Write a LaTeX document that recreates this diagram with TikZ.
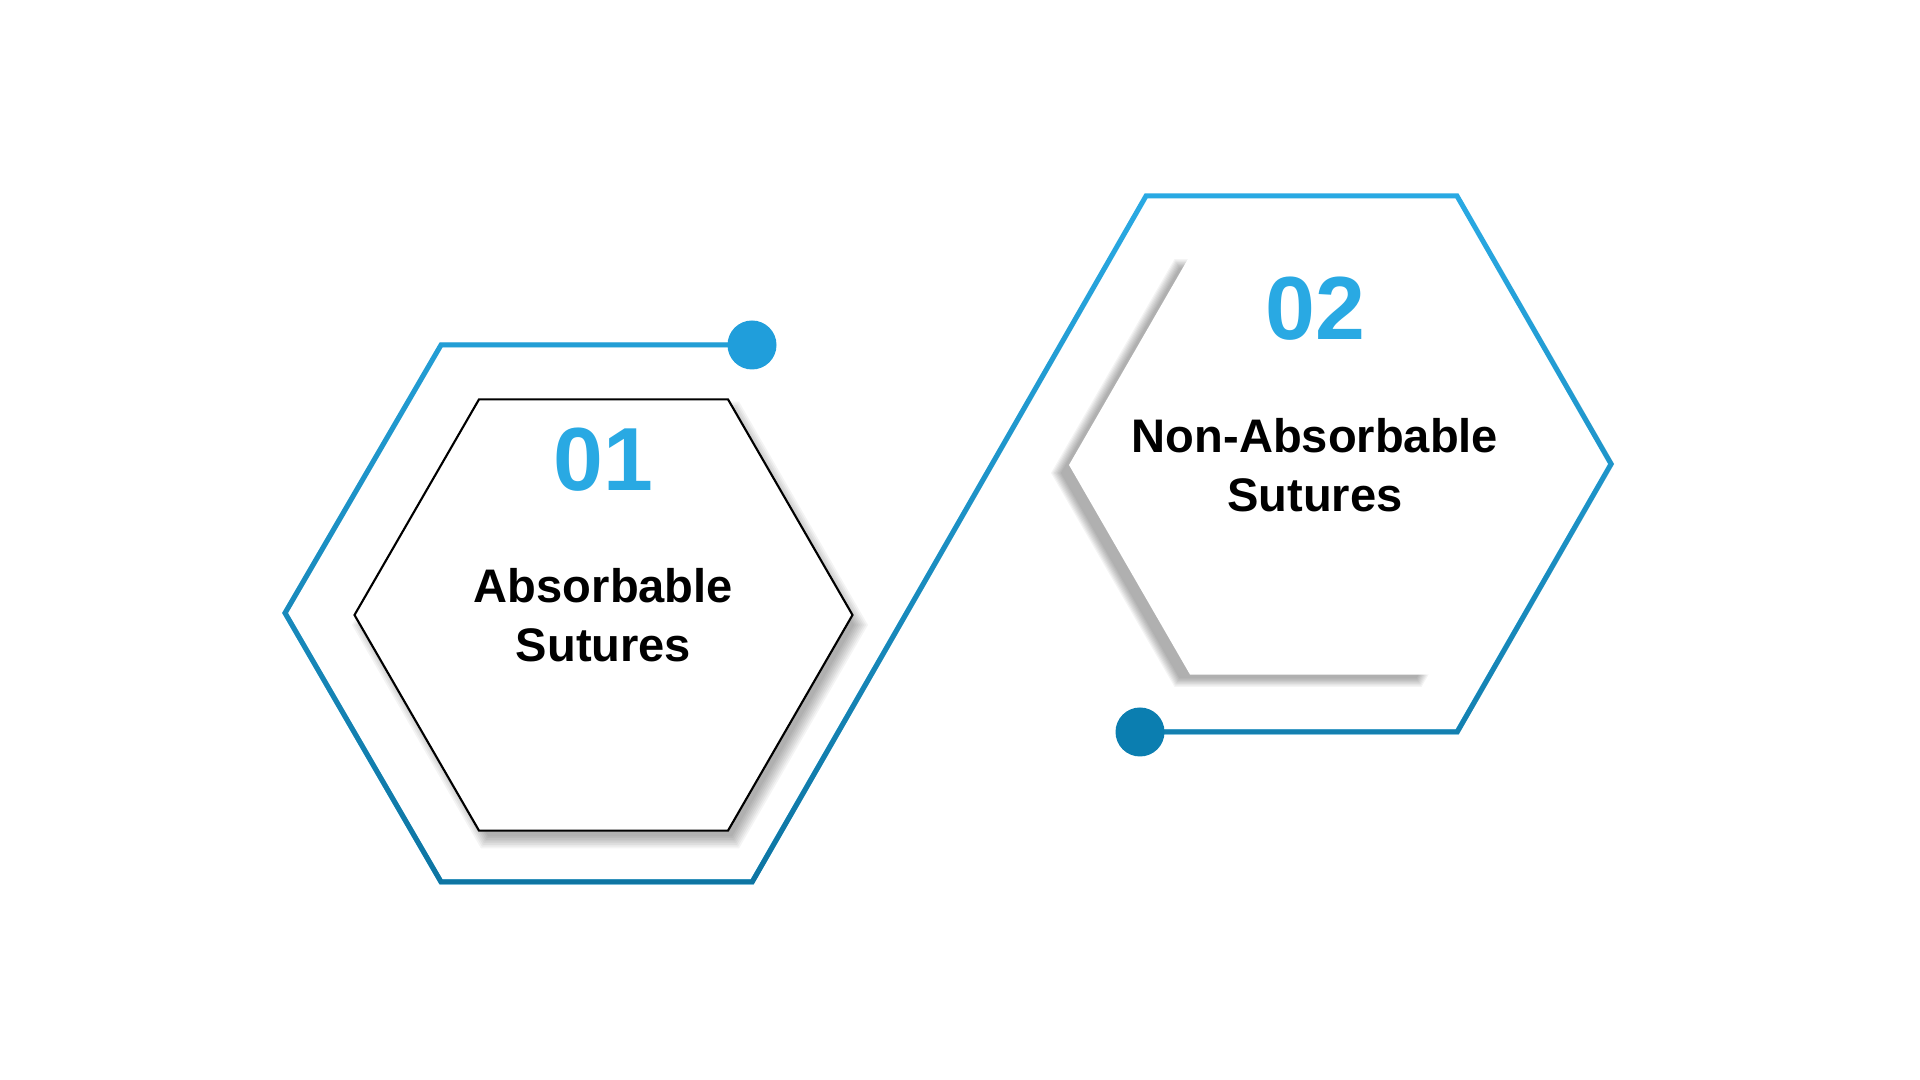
\documentclass[tikz,border=0pt]{standalone}
\usepackage{fontspec}
\setmainfont{Liberation Sans}
\usepackage{tikz}
\usetikzlibrary{positioning,shapes.geometric}
\usetikzlibrary{fadings}

\definecolor{ringlight}{HTML}{2AAAE4}
\definecolor{ringdark}{HTML}{0E75A2}
\definecolor{dotlight}{HTML}{209EDB}
\definecolor{dotdark}{HTML}{0B7EB0}
\definecolor{numblue}{HTML}{29A9E3}

\tikzfading[name=fadeup, top color=transparent!100, bottom color=transparent!0]

\newcommand{\ringpath}{(endA) -- (4.41, 7.35) -- (2.85, 4.67) -- (4.41, 1.98) -- (7.52, 1.98) -- (11.46, 8.84) -- (14.57, 8.84) -- (16.11, 6.16) -- (14.57, 3.48) -- (endB)}

\tikzset{
    hexcell/.style={regular polygon, regular polygon sides=6, inner sep=0pt, fill=white},
    hexshade/.style={black, opacity=0.045},
    numlabel/.style={inner sep=0pt, text=numblue, font=\fontsize{25.5}{28}\selectfont\bfseries},
    titlelabel/.style={inner sep=0pt, align=center, font=\fontsize{13.4}{16.8}\selectfont\bfseries},
    dotnode/.style={circle, inner sep=0pt, minimum size=0.49cm},
    ringline/.style={line width=0.05cm}
}

\begin{document}
\begin{tikzpicture}
        \fill[white] (0, 0) rectangle (19.2, 10.8);

        % soft shadows
        \foreach \k in {0,...,7} {
            \pgfmathsetmacro{\r}{2.58-0.02*\k}
            \fill[hexshade] (6.10+\r, 4.55) -- ++(120:\r) -- ++(180:\r) -- ++(240:\r) -- ++(300:\r) -- ++(0:\r) -- cycle;
        }
        \foreach \k in {0,...,7} {
            \pgfmathsetmacro{\r}{2.47-0.014*\k}
            \fill[hexshade] (12.98+\r, 6.07) -- ++(120:\r) -- ++(180:\r) -- ++(240:\r) -- ++(300:\r) -- ++(0:\r) -- cycle;
        }

        % inner hexagons
        \node[hexcell, minimum size=4.98cm, draw=black, line width=0.6pt] (hexA) at (6.035, 4.65) {};
        \node[hexcell, minimum size=4.84cm] (hexB) at (13.11, 6.15) {};

        % outer line
        \coordinate (endA) at (7.52, 7.35);
        \coordinate (endB) at (11.40, 3.48);
        \draw[ringline, ringlight] \ringpath;
        \draw[ringline, ringdark, path fading=fadeup] \ringpath;

        \node[dotnode, fill=dotlight] (dotA) at (endA) {};
        \node[dotnode, fill=dotdark] (dotB) at (endB) {};

        % texts
        \node[titlelabel] (titleA) at (hexA.center) {Absorbable\\Sutures};
        \node[numlabel, above=0.75cm of titleA] (numA) {01};

        \node[titlelabel, xshift=0.04cm] (titleB) at (hexB.center) {Non-Absorbable\\Sutures};
        \node[numlabel, above=0.76cm of titleB] (numB) {02};

    \end{tikzpicture}
\end{document}
